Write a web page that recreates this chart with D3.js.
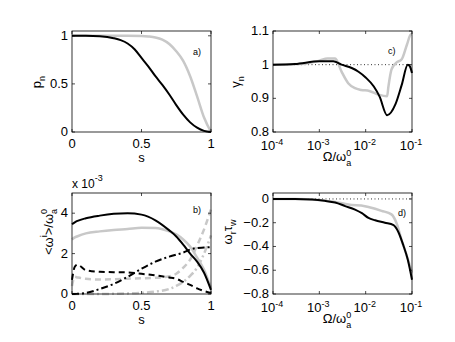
<!DOCTYPE html>
<html>
<head>
<meta charset="utf-8">
<script src="https://cdn.jsdelivr.net/npm/d3@7"></script>
<style>
body { margin: 0; background: #fff; }
text { font-family: "Liberation Sans", Arial, sans-serif; fill: #000; }
</style>
</head>
<body>
<div id="chart"></div>
<script>
var width = 455, height = 342;

// ---- panel a) p_n vs s
var aS     = [0, 0.1, 0.2, 0.3, 0.35, 0.4, 0.45, 0.5, 0.55, 0.6, 0.65, 0.7, 0.75, 0.8, 0.85, 0.9, 0.95, 1];
var aBlack = [1, 1, 0.995, 0.975, 0.955, 0.92, 0.86, 0.77, 0.68, 0.58, 0.49, 0.39, 0.28, 0.18, 0.10, 0.045, 0.012, 0];
var aGrayS = [0, 0.1, 0.2, 0.3, 0.4, 0.5, 0.55, 0.6, 0.65, 0.7, 0.75, 0.8, 0.85, 0.9, 0.95, 1];
var aGray  = [1, 1, 1, 1, 1, 0.998, 0.993, 0.983, 0.96, 0.915, 0.84, 0.74, 0.58, 0.37, 0.15, 0];

// ---- panel b) <omega^i>/omega_a^0 vs s (units of 1e-3)
var bS         = [0, 0.02, 0.04, 0.1, 0.2, 0.3, 0.4, 0.5, 0.6, 0.7, 0.75, 0.8, 0.85, 0.9, 0.95, 1];
var bBlack     = [3.45, 3.55, 3.62, 3.75, 3.88, 3.97, 4.0, 3.93, 3.65, 3.15, 2.85, 2.45, 2.0, 1.6, 1.05, 0.2];
var bGray      = [2.7, 2.8, 2.86, 3.0, 3.1, 3.17, 3.22, 3.28, 3.27, 3.1, 2.95, 2.7, 2.35, 1.8, 1.2, 0.3];
var bBlackDash = [0.7, 1.35, 1.45, 1.18, 1.1, 1.08, 1.07, 1.0, 0.92, 0.82, 0.75, 0.6, 0.45, 0.28, 0.15, 0.05];
var bGrayDash  = [0.4, 0.85, 0.82, 0.75, 0.72, 0.73, 0.76, 0.78, 0.8, 0.88, 1.0, 1.3, 1.7, 2.4, 3.2, 4.2];
var bBlackDot  = [0, 0, 0.01, 0.05, 0.25, 0.5, 0.85, 1.25, 1.6, 1.85, 1.95, 2.05, 2.2, 2.28, 2.3, 2.32];
var bGrayDot   = [0, 0, 0, 0, 0, 0.01, 0.03, 0.06, 0.12, 0.25, 0.4, 0.6, 0.9, 1.3, 2.0, 2.9];

// ---- panel c) gamma_n vs Omega/omega_a^0
var cBlackX = [1e-4, 3e-4, 1e-3, 2e-3, 3e-3, 5e-3, 7e-3, 1e-2, 1.5e-2, 2e-2, 2.9e-2, 4.4e-2, 6e-2, 8.1e-2, 9e-2, 1e-1];
var cBlack  = [1, 1.002, 1.01, 1.01, 1.0, 0.99, 0.979, 0.962, 0.935, 0.905, 0.85, 0.883, 0.94, 1.0, 0.995, 0.975];
var cGrayX  = [1e-4, 5e-4, 1e-3, 1.5e-3, 2.2e-3, 3e-3, 4.2e-3, 5.9e-3, 8e-3, 1.2e-2, 1.9e-2, 2.9e-2, 3.1e-2, 3.6e-2, 4.5e-2, 6e-2, 7.8e-2, 9.5e-2, 1e-1];
var cGray   = [1, 1.003, 1.012, 1.018, 1.018, 0.98, 0.945, 0.93, 0.925, 0.922, 0.911, 0.906, 0.935, 0.985, 1.005, 1.016, 1.06, 1.09, 1.09];

// ---- panel d) omega_r tau_w vs Omega/omega_a^0
var dBlackX = [1e-4, 3e-4, 7e-4, 1.3e-3, 2.2e-3, 3.6e-3, 5.9e-3, 8.3e-3, 1.15e-2, 1.6e-2, 2.6e-2, 4e-2, 5.1e-2, 6.5e-2, 8.1e-2, 1e-1];
var dBlack  = [0, 0, -0.005, -0.016, -0.03, -0.06, -0.09, -0.12, -0.16, -0.18, -0.2, -0.22, -0.28, -0.39, -0.51, -0.68];
var dGrayX  = [1e-4, 3e-4, 1e-3, 2.2e-3, 3.5e-3, 5e-3, 8e-3, 1.2e-2, 2.2e-2, 3.6e-2, 4.7e-2, 6e-2, 7.6e-2, 1e-1];
var dGray   = [0, 0, -0.01, -0.025, -0.04, -0.052, -0.055, -0.07, -0.1, -0.13, -0.21, -0.35, -0.47, -0.62];

var linTicks = [0, 0.5, 1];
var yTicksA = [0, 0.5, 1];
var yTicksB = [0, 2, 4];
var yTicksC = [0.8, 0.9, 1, 1.1];
var yTicksD = [-0.8, -0.6, -0.4, -0.2, 0];
var logTicks = [1e-4, 1e-3, 1e-2, 1e-1];

var BLACK = "#000", GRAY = "#c8c8c8";

var svg = d3.select("#chart").append("svg")
    .attr("width", width).attr("height", height);

function frame(x, y, xt, yt) {
    var x0 = x.range()[0], x1 = x.range()[1];
    var yb = y.range()[0], ytop = y.range()[1];
    var g = svg.append("g");
    xt.forEach(function(v) {
        g.append("line").attr("x1", x(v)).attr("x2", x(v)).attr("y1", yb).attr("y2", yb - 3);
        g.append("line").attr("x1", x(v)).attr("x2", x(v)).attr("y1", ytop).attr("y2", ytop + 3);
    });
    yt.forEach(function(v) {
        g.append("line").attr("y1", y(v)).attr("y2", y(v)).attr("x1", x0).attr("x2", x0 + 3);
        g.append("line").attr("y1", y(v)).attr("y2", y(v)).attr("x1", x1).attr("x2", x1 - 3);
    });
    g.selectAll("line").attr("stroke", "#000").attr("stroke-width", 0.7);
    g.append("rect").attr("x", x0).attr("y", ytop).attr("width", x1 - x0).attr("height", yb - ytop)
        .attr("fill", "none").attr("stroke", "#000").attr("stroke-width", 0.8);
}

function linXLabels(x, y, ticks) {
    ticks.forEach(function(v) {
        svg.append("text").attr("x", x(v)).attr("y", y.range()[0] + 16)
            .attr("text-anchor", "middle").attr("font-size", 13).text(d3.format("~g")(v));
    });
}
function logXLabels(x, y, ticks) {
    ticks.forEach(function(v) {
        var t = svg.append("text").attr("x", x(v) - 1).attr("y", y.range()[0] + 18)
            .attr("text-anchor", "middle").attr("font-size", 13);
        t.append("tspan").text("10");
        t.append("tspan").attr("dy", -5).attr("font-size", 9).text(String(Math.round(Math.log10(v))));
    });
}
function yLabels(x, y, ticks, fmt) {
    ticks.forEach(function(v) {
        svg.append("text").attr("x", x.range()[0] - 4).attr("y", y(v) + 4)
            .attr("text-anchor", "end").attr("font-size", 13).text(fmt(v));
    });
}
function curve(x, y, xs, ys, color, w, dash) {
    var line = d3.line().x(function(d) { return x(d[0]); }).y(function(d) { return y(d[1]); })
        .curve(d3.curveMonotoneX);
    svg.append("path").datum(d3.zip(xs, ys)).attr("d", line)
        .attr("fill", "none").attr("stroke", color).attr("stroke-width", w)
        .attr("stroke-dasharray", dash || null);
}

// scales
var xA = d3.scaleLinear().domain([0, 1]).range([72, 211]);
var yA = d3.scaleLinear().domain([0, 1.05]).range([132, 31]);
var xB = d3.scaleLinear().domain([0, 1]).range([72, 211]);
var yB = d3.scaleLinear().domain([0, 5]).range([294, 193]);
var xC = d3.scaleLog().domain([1e-4, 1e-1]).range([273, 412]);
var yC = d3.scaleLinear().domain([0.8, 1.1]).range([132, 31]);
var xD = d3.scaleLog().domain([1e-4, 1e-1]).range([273, 412]);
var yD = d3.scaleLinear().domain([-0.8, 0.05]).range([294, 193]);

var fmt = d3.format("~g");

// panel a
curve(xA, yA, aGrayS, aGray, GRAY, 2.5);
curve(xA, yA, aS, aBlack, BLACK, 2);
frame(xA, yA, linTicks, yTicksA);
linXLabels(xA, yA, linTicks);
yLabels(xA, yA, yTicksA, fmt);

// panel b
curve(xB, yB, bS, bGray, GRAY, 2.5);
curve(xB, yB, bS, bGrayDash, GRAY, 2.5, "6,4");
curve(xB, yB, bS, bGrayDot, GRAY, 2.5, "7,3,2,3");
curve(xB, yB, bS, bBlack, BLACK, 2);
curve(xB, yB, bS, bBlackDash, BLACK, 2, "6,4");
curve(xB, yB, bS, bBlackDot, BLACK, 2, "7,3,2,3");
frame(xB, yB, linTicks, yTicksB);
linXLabels(xB, yB, linTicks);
yLabels(xB, yB, yTicksB, fmt);
var ex = svg.append("text").attr("x", 72).attr("y", 188).attr("font-size", 12);
ex.append("tspan").text("x 10");
ex.append("tspan").attr("dy", -7).attr("font-size", 9).text("-3");

// panel c
svg.append("line").attr("x1", xC(1e-4)).attr("x2", xC(1e-1)).attr("y1", yC(1)).attr("y2", yC(1))
    .attr("stroke", "#000").attr("stroke-width", 0.8).attr("stroke-dasharray", "1,2.5");
curve(xC, yC, cGrayX, cGray, GRAY, 2.5);
curve(xC, yC, cBlackX, cBlack, BLACK, 2);
frame(xC, yC, logTicks, yTicksC);
logXLabels(xC, yC, logTicks);
yLabels(xC, yC, yTicksC, fmt);

// panel d
svg.append("line").attr("x1", xD(1e-4)).attr("x2", xD(1e-1)).attr("y1", yD(0)).attr("y2", yD(0))
    .attr("stroke", "#000").attr("stroke-width", 0.8).attr("stroke-dasharray", "1,2.5");
curve(xD, yD, dGrayX, dGray, GRAY, 2.5);
curve(xD, yD, dBlackX, dBlack, BLACK, 2);
frame(xD, yD, logTicks, yTicksD);
logXLabels(xD, yD, logTicks);
yLabels(xD, yD, yTicksD, function(v) { return fmt(v).replace("-", "\u2212"); });

// axis titles
function xTitle(cx, cy, plain) {
    var t = svg.append("text").attr("x", cx).attr("y", cy).attr("text-anchor", "middle").attr("font-size", 13);
    if (plain) { t.text(plain); return; }
    t.append("tspan").text("\u03a9/\u03c9");
    t.append("tspan").attr("dy", -5).attr("font-size", 9).text("0");
    t.append("tspan").attr("dx", -5).attr("dy", 10).attr("font-size", 9).text("a");
}
xTitle(xA(0.5), 162, "s");
xTitle(xB(0.5), 324, "s");
xTitle(337, 161);
xTitle(337, 323);

function yTitle(bx, cy, parts) {
    var t = svg.append("text").attr("transform", "translate(" + bx + "," + cy + ") rotate(-90)")
        .attr("text-anchor", "middle").attr("font-size", 13);
    parts.forEach(function(p) {
        var s = t.append("tspan").text(p[0]);
        if (p[1]) s.attr("dy", p[1]);
        if (p[2]) s.attr("font-size", p[2]);
        if (p[3]) s.attr("dx", p[3]);
    });
}
yTitle(41, 82, [["p"], ["n", 4, 9]]);
yTitle(240, 82, [["\u03b3"], ["n", 4, 9]]);
yTitle(53, 232, [["<\u03c9"], ["i", -6, 9], [">/\u03c9", 6], ["0", -6, 9], ["a", 10, 9, -5]]);
yTitle(232, 232, [["\u03c9"], ["r", 4, 9], ["\u03c4", -4], ["w", 4, 9]]);

// panel letters
[["a)", 193, 55], ["b)", 193, 213], ["c)", 388, 54], ["d)", 398, 216]].forEach(function(d) {
    svg.append("text").attr("x", d[1]).attr("y", d[2]).attr("font-size", 9).text(d[0]);
});
</script>
</body>
</html>
